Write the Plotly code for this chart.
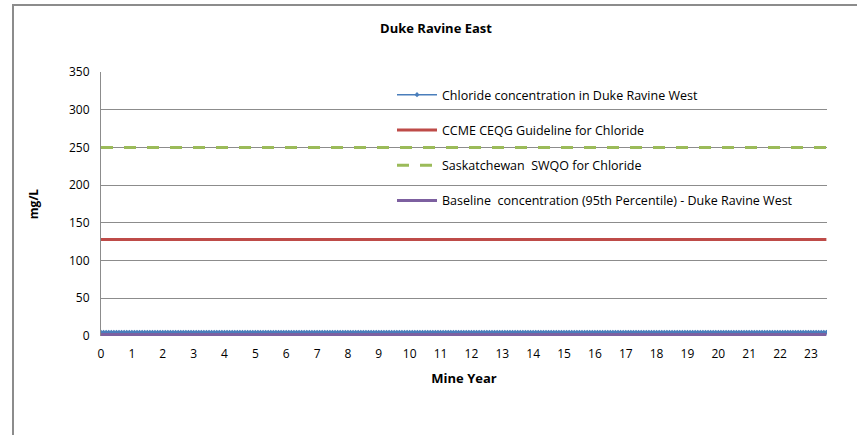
import plotly.graph_objects as go

# --- data ---
months_per_year = 12
n_months = 283  # 0 .. ~23.6 mine years
mine_year = [m / months_per_year for m in range(n_months)]
chloride_mgL = [5.0] * n_months  # flat ~5 mg/L throughout
ccme_guideline = 128
sk_swqo = 250
baseline_95 = 2
x_ticks = list(range(0, 24))
y_ticks = [0, 50, 100, 150, 200, 250, 300, 350]

W, H = 857, 435
L, R, T, B = 101, 827, 72, 336

fig = go.Figure()
fig.add_trace(go.Scatter(
    x=mine_year, y=chloride_mgL, mode="lines+markers",
    name="Chloride concentration in Duke Ravine West",
    line=dict(color="#4a7ebb", width=1.5),
    marker=dict(symbol="diamond", size=4, color="#4a7ebb"),
    legendgroup="a"))
x_end = [0, mine_year[-1]]
fig.add_trace(go.Scatter(
    x=x_end, y=[ccme_guideline] * 2, mode="lines",
    name="CCME CEQG Guideline for Chloride",
    line=dict(color="#be4b48", width=3), legendgroup="b"))
fig.add_trace(go.Scatter(
    x=x_end, y=[sk_swqo] * 2, mode="lines",
    name="Saskatchewan  SWQO for Chloride",
    line=dict(color="#9bbb59", width=3, dash="12px,11px"), legendgroup="c"))
fig.add_trace(go.Scatter(
    x=x_end, y=[baseline_95] * 2, mode="lines",
    name="Baseline  concentration (95th Percentile) - Duke Ravine West",
    line=dict(color="#7d60a0", width=3), legendgroup="d"))

font = "Open Sans"
fig.update_layout(
    width=W, height=H,
    margin=dict(l=L, r=W - R, t=T, b=H - B),
    paper_bgcolor="white", plot_bgcolor="white",
    font=dict(family=font, size=12, color="black"),
    title=dict(text="<b>Duke Ravine East</b>", x=436 / W, xanchor="center",
               y=1 - 28 / H, yanchor="middle", font=dict(size=13, family=font)),
    showlegend=True,
    legend=dict(x=(392 - L) / (R - L), y=(B - 80) / (B - T), xanchor="left", yanchor="top",
                bgcolor="rgba(0,0,0,0)", tracegroupgap=16, font=dict(size=12.5, family=font),
                itemwidth=40),
    xaxis=dict(range=[0, mine_year[-1] + 0.02], tickvals=x_ticks, showgrid=False,
               zeroline=False, showline=False, ticks="outside", ticklen=7,
               tickcolor="rgba(0,0,0,0)",
               title=dict(text="<b>Mine Year</b>", font=dict(size=13), standoff=12),
               tickfont=dict(size=12)),
    yaxis=dict(range=[0, 350], tickvals=y_ticks, showgrid=True, gridcolor="#8c8c8c",
               gridwidth=1, zeroline=False, showline=True, linecolor="#8c8c8c",
               linewidth=1, ticks="outside", ticklen=8, tickcolor="rgba(0,0,0,0)",
               title=dict(text="<b>mg/L</b>", font=dict(size=12), standoff=27),
               tickfont=dict(size=12)),
)
# chart-area frame
fig.add_shape(type="rect", xref="paper", yref="paper",
              x0=(13 - L) / (R - L), x1=(W + 20 - L) / (R - L),
              y0=(B - (H + 20)) / (B - T), y1=(B - 5) / (B - T),
              line=dict(color="#8c8c8c", width=2), fillcolor="rgba(0,0,0,0)", layer="below")
fig.write_html("out.html", config={"displayModeBar": False},
               post_script="document.body.style.margin='0';")
